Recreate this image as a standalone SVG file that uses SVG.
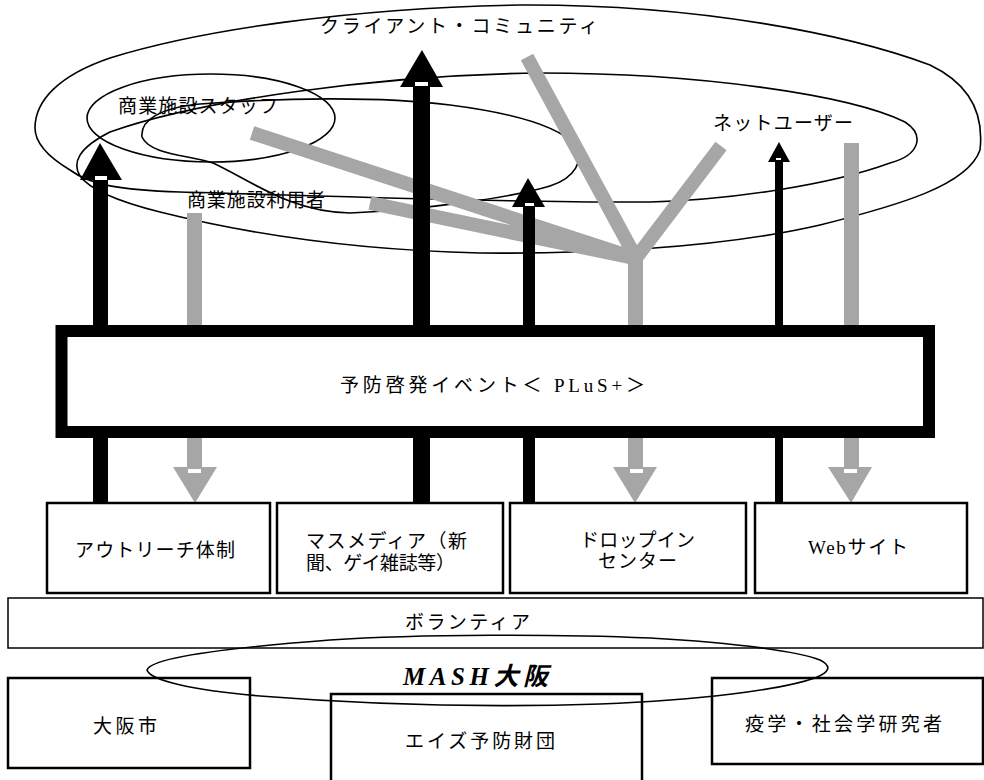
<svg xmlns="http://www.w3.org/2000/svg" width="984" height="780" viewBox="0 0 984 780">
<style>
.t{font-family:"Liberation Serif","Noto Sans CJK JP",serif;font-size:19px;fill:#000}
.ell{fill:none;stroke:#000;stroke-width:1.6}
.box{fill:#fff;stroke:#000;stroke-width:2.5}
.thin{fill:#fff;stroke:#000;stroke-width:1.5}
.gbar{fill:none;stroke:#a6a6a6;stroke-width:14}
.gray{fill:#a6a6a6}
.blk{fill:#000}
.wh{fill:#fff}
</style>
<rect width="984" height="780" fill="#fff"/>

<g id="client-community">
<path class="ell" d="M35,128 C35,100 60,75 110,58 C200,30 350,8 520,5 C700,4 850,35 930,65 C972,85 984,115 980,150 C968,185 900,205 820,225 C720,248 600,254 480,253 C350,250 240,232 160,212 C120,202 90,190 80,176 C72,163 78,148 110,132 C200,100 380,75 540,73 C700,73 850,95 905,122 C925,135 920,155 890,163 C830,185 730,200 650,202 C500,203 300,195 180,192 C120,190 90,185 70,170 C45,155 35,140 35,128 Z"/>
<text class="t" x="320" y="33" textLength="278" lengthAdjust="spacing">クライアント・コミュニティ</text>
<text class="t" x="713" y="130" textLength="140" lengthAdjust="spacing">ネットユーザー</text>
</g>

<g id="staff">
<ellipse class="ell" cx="211" cy="118" rx="124" ry="44"/>
<text class="t" x="118" y="113" textLength="160" lengthAdjust="spacing">商業施設スタッフ</text>
</g>

<g id="users">
<path class="ell" d="M142,137 C140,120 160,108 200,104 C280,98 380,96 450,105 C520,114 560,128 575,145 C585,160 575,178 550,186 C510,198 420,210 350,213 C290,212 250,180 213,163 C190,155 150,155 142,137 Z"/>
<text class="t" x="187" y="207" textLength="138" lengthAdjust="spacing">商業施設利用者</text>
</g>

<g id="connectors">
<line class="gbar" x1="252" y1="133" x2="634" y2="258"/>
<line class="gbar" x1="370" y1="203" x2="634" y2="258"/>
<line class="gbar" x1="527" y1="57" x2="636" y2="258"/>
<line class="gbar" x1="721" y1="146" x2="636" y2="258"/>
<rect class="gray" x="628" y="250" width="15" height="218"/>
<polygon class="gray" points="613,467 657,467 635,503"/>
<rect class="wh" x="630" y="469" width="13" height="4"/>
<rect class="gray" x="187" y="213" width="15" height="255"/>
<polygon class="gray" points="173,467 217,467 195,503"/>
<rect class="wh" x="188" y="469" width="13" height="4"/>
<rect class="gray" x="844" y="143" width="15" height="325"/>
<polygon class="gray" points="828,467 872,467 851,503"/>
<rect class="wh" x="844" y="469" width="13" height="4"/>
<rect class="blk" x="93" y="178" width="15" height="325"/>
<polygon class="blk" points="80,180 100,143 122,180"/>
<rect class="wh" x="95" y="176" width="12" height="4"/>
<rect class="blk" x="413" y="85" width="17" height="418"/>
<polygon class="blk" points="400,87 422,50 443,87"/>
<rect class="wh" x="415" y="82" width="13" height="4"/>
<rect class="blk" x="523" y="205" width="12" height="298"/>
<polygon class="blk" points="512,207 528,178 545,207"/>
<rect class="wh" x="525" y="203" width="9" height="3"/>
<rect class="blk" x="775" y="160" width="8" height="343"/>
<polygon class="blk" points="768,162 779,142 790,162"/>
<rect class="wh" x="776" y="158" width="5" height="2"/>
</g>

<g id="event">
<rect x="61.5" y="331" width="867.5" height="101" fill="#fff" stroke="#000" stroke-width="12"/>
<text class="t" x="340" y="392" textLength="305" lengthAdjust="spacing">予防啓発イベント＜ PLuS+＞</text>
</g>

<g id="outreach">
<rect class="box" x="47" y="503" width="223" height="90"/>
<text class="t" x="75" y="557" textLength="160" lengthAdjust="spacing">アウトリーチ体制</text>
</g>
<g id="massmedia">
<rect class="box" x="277" y="503" width="226" height="90"/>
<text class="t" x="306" y="548" textLength="161" lengthAdjust="spacing">マスメディア（新</text>
<text class="t" x="306" y="570" textLength="149" lengthAdjust="spacing">聞、ゲイ雑誌等）</text>
</g>
<g id="dropin">
<rect class="box" x="510" y="503" width="236" height="90"/>
<text class="t" x="580" y="547" textLength="115" lengthAdjust="spacing">ドロップイン</text>
<text class="t" x="598" y="568" textLength="79" lengthAdjust="spacing">センター</text>
</g>
<g id="web">
<rect class="box" x="755" y="503" width="212" height="90"/>
<text class="t" x="808" y="554" textLength="100" lengthAdjust="spacing">Webサイト</text>
</g>

<g id="volunteer">
<rect class="thin" x="8" y="598" width="975" height="50"/>
<text class="t" x="405" y="629" textLength="125" lengthAdjust="spacing">ボランティア</text>
</g>

<g id="osaka-city">
<rect class="box" x="8" y="678" width="242" height="90"/>
<text class="t" x="93" y="733" textLength="64" lengthAdjust="spacing">大阪市</text>
</g>
<g id="aids-foundation">
<rect class="box" x="331" y="694" width="311" height="96"/>
<text class="t" x="405" y="748" textLength="150" lengthAdjust="spacing">エイズ予防財団</text>
</g>
<g id="researchers">
<rect class="box" x="712" y="678" width="271" height="86"/>
<text class="t" x="745" y="731" textLength="197" lengthAdjust="spacing">疫学・社会学研究者</text>
</g>

<g id="mash-osaka">
<path class="ell" d="M147,670 C150,660 200,650 330,640 C420,634 560,634 650,638 C740,643 800,652 820,660 C832,666 830,672 815,678 C780,690 700,700 600,704 C480,708 360,704 260,696 C190,690 150,680 147,670 Z"/>
<text x="403" y="685" textLength="145" lengthAdjust="spacing" style="font-family:'Liberation Serif','Noto Sans CJK JP',serif;font-size:25px;font-weight:bold;font-style:italic">MASH大阪</text>
</g>
</svg>
